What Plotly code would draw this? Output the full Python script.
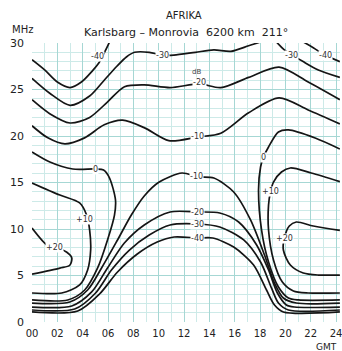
import plotly.graph_objects as go

# ---- contour lines (hour GMT, frequency MHz) ----
m40_left_h = [0, 1.0, 2.0, 3.0, 3.9, 4.7, 5.3, 5.8, 6.15]
m40_left_f = [28.2, 27.1, 25.8, 25.2, 25.8, 26.9, 27.9, 29.2, 30.2]
m40_right_h = [21.3, 22.2, 23.1, 24.3]
m40_right_f = [30.2, 29.5, 28.7, 28.0]

m30_top_h = [0, 1.4, 3.0, 4.55, 5.7, 6.7, 7.45, 8.1, 9.25, 10.3, 11.2, 12.9, 14.35, 15.7, 17.1, 18.0, 18.5]
m30_top_f = [26.2, 24.6, 23.3, 24.3, 26.0, 27.5, 28.5, 29.0, 29.0, 28.7, 28.7, 29.0, 29.25, 29.1, 29.7, 30.1, 30.3]
m30_right_h = [19.3, 19.85, 20.55, 21.4, 22.6, 24.3]
m30_right_f = [30.1, 29.35, 28.7, 28.0, 27.1, 26.3]

m20_up_h = [0, 1.4, 3.0, 4.55, 5.95, 7.3, 8.85, 10.9, 13.2, 14.9, 17.1, 19.5, 21.8, 24.3]
m20_up_f = [23.9, 22.4, 21.4, 22.0, 23.65, 25.3, 25.5, 25.2, 25.6, 25.2, 26.3, 27.4, 25.8, 23.9]

m10_up_h = [0, 1.25, 2.6, 4.15, 5.7, 7.15, 8.85, 10.8, 13.1, 14.9, 17.1, 19.5, 21.8, 24.3]
m10_up_f = [21.1, 19.8, 19.15, 19.8, 21.2, 21.7, 20.9, 19.5, 19.9, 20.3, 22.5, 24.1, 22.8, 21.3]

z0_left_h = [0, 1.41, 3.22, 5.02, 5.65, 6.12, 6.59, 6.51, 5.96, 5.18, 4.16, 2.82, 0]
z0_left_f = [18.28, 17.2, 16.45, 16.45, 16.34, 15.48, 13.12, 11.5, 8.82, 5.81, 3.44, 2.37, 2.37]
z0_right_h = [24.3, 22.35, 20.24, 19.45, 18.67, 18.27, 18.04, 17.88, 18.12, 18.67, 19.45, 20.24, 21.02, 24.3]
z0_right_f = [18.6, 19.78, 20.65, 20.43, 18.82, 17.74, 16.67, 14.19, 9.89, 6.45, 3.76, 2.58, 2.37, 2.37]

p10_left_h = [0, 2.2, 3.76, 4.31, 4.55, 4.63, 4.39, 3.76, 2.35, 0]
p10_left_f = [14.95, 13.65, 12.8, 11.5, 9.89, 7.74, 5.59, 3.98, 3.12, 3.12]
p10_right_h = [24.3, 22.04, 20.39, 19.69, 19.06, 18.82, 18.67, 18.67, 19.06, 19.76, 20.63, 21.8, 24.3]
p10_right_f = [15.1, 16.02, 16.56, 16.13, 15.05, 13.98, 12.58, 9.89, 6.67, 4.3, 3.34, 3.12, 3.12]

p20_left_h = [0, 1.25, 2.04, 2.75, 3.14, 2.98, 2.2, 0]
p20_left_f = [10.1, 8.2, 7.95, 7.5, 6.9, 6.1, 5.8, 5.15]
p20_right_h = [24.3, 22.2, 20.86, 20.31, 19.92, 19.84, 20.39, 21.41, 22.59, 24.3]
p20_right_f = [9.85, 10.32, 10.75, 10.32, 9.03, 7.74, 6.13, 5.27, 5.05, 5.05]

m10_low_h = [0, 2.98, 4.39, 5.49, 6.75, 7.84, 8.86, 10.04, 11.84, 13.1, 14.35, 15.92, 17.25, 18.35, 19.14, 19.84, 20.86, 24.3]
m10_low_f = [2.04, 2.15, 3.44, 5.81, 8.82, 11.5, 13.55, 15.05, 16.02, 15.6, 15.48, 13.98, 10.97, 7.2, 4.19, 2.58, 2.04, 2.04]

m20_low_h = [0, 3.14, 4.71, 5.96, 7.29, 8.86, 10.9, 13.1, 14.82, 16.31, 17.73, 18.67, 19.37, 20.08, 20.71, 24.3]
m20_low_f = [1.61, 1.72, 3.23, 5.81, 8.49, 10.43, 11.83, 11.83, 11.72, 10.75, 8.28, 5.59, 3.12, 1.83, 1.61, 1.61]

m30_low_h = [0, 3.37, 5.02, 6.27, 7.69, 9.25, 10.9, 13.1, 14.82, 16.71, 18.04, 18.9, 19.45, 20.24, 24.3]
m30_low_f = [1.29, 1.4, 3.12, 5.59, 7.74, 9.35, 10.43, 10.54, 10.22, 8.82, 6.45, 3.66, 2.04, 1.29, 1.29]

m40_low_h = [0, 3.61, 5.33, 6.75, 8.31, 9.88, 11.22, 13.1, 14.27, 15.92, 17.49, 18.51, 19.14, 19.84, 24.3]
m40_low_f = [1.08, 1.18, 3.01, 5.38, 7.31, 8.6, 9.14, 9.03, 9.03, 8.06, 6.13, 3.44, 1.83, 1.08, 1.08]

# ---- contour labels ----
label_text = ["-40", "-30", "-30", "-40", "-20", "-10", "0", "0", "-10",
              "+10", "+10", "+20", "+20", "-20", "-30", "-40"]
label_h = [5.2, 10.3, 20.5, 23.2, 13.2, 13.1, 5.0, 18.3, 13.0,
           4.15, 18.8, 1.8, 19.9, 13.1, 13.1, 13.1]
label_f = [28.5, 28.7, 28.7, 28.7, 25.7, 19.9, 16.45, 17.7, 15.6,
           11.0, 14.0, 8.06, 9.0, 11.8, 10.5, 9.0]

x_ticks = list(range(0, 25, 2))
x_tick_labels = ["%02d" % v for v in x_ticks]
y_ticks = [0, 5, 10, 15, 20, 25, 30]

lines = [
    (m40_left_h, m40_left_f), (m40_right_h, m40_right_f),
    (m30_top_h, m30_top_f), (m30_right_h, m30_right_f),
    (m20_up_h, m20_up_f), (m10_up_h, m10_up_f),
    (z0_left_h, z0_left_f), (z0_right_h, z0_right_f),
    (p10_left_h, p10_left_f), (p10_right_h, p10_right_f),
    (p20_left_h, p20_left_f), (p20_right_h, p20_right_f),
    (m10_low_h, m10_low_f), (m20_low_h, m20_low_f),
    (m30_low_h, m30_low_f), (m40_low_h, m40_low_f),
]

INK = "#151515"
FONT = "DejaVu Sans"
TXT = "#222222"

fig = go.Figure()
for hx, fy in lines:
    fig.add_trace(go.Scatter(x=hx, y=fy, mode="lines",
                             line=dict(color=INK, width=1.7, shape="spline", smoothing=0.8),
                             hoverinfo="skip", showlegend=False))

for t, hx, fy in zip(label_text, label_h, label_f):
    fig.add_annotation(x=hx, y=fy, xref="x", yref="y", text=t, showarrow=False,
                       font=dict(family=FONT, size=8, color="#333333"),
                       bgcolor="white", borderpad=0)

fig.add_annotation(x=13.0, y=26.85, xref="x", yref="y", text="dB", showarrow=False,
                   font=dict(family=FONT, size=7, color="#444444"))

top_texts = [
    ("AFRIKA", 0.493, 1.100, 10),
    ("Karlsbarg – Monrovia  6200 km  211°", 0.499, 1.036, 11),
    ("MHz", -0.032, 1.047, 10),
    ("GMT", 0.955, -0.090, 9),
]
for t, px, py, sz in top_texts:
    fig.add_annotation(x=px, y=py, xref="paper", yref="paper", text=t,
                       xanchor="center", yanchor="middle", showarrow=False,
                       font=dict(family=FONT, size=sz, color=TXT))

GRID_MINOR = "#cdeae8"
GRID_MAJOR = "#a6d7d4"

fig.update_layout(
    width=342, height=351,
    margin=dict(l=32, r=0, t=43, b=29),
    paper_bgcolor="white", plot_bgcolor="white",
    xaxis=dict(range=[0, 24.31], tickmode="array", tickvals=x_ticks, ticktext=x_tick_labels,
               showgrid=True, gridcolor=GRID_MAJOR, gridwidth=1,
               minor=dict(dtick=1, showgrid=True, gridcolor=GRID_MINOR, gridwidth=1),
               zeroline=False, ticks="", showline=False,
               ticklabeloverflow="allow", ticklabelstandoff=4,
               tickfont=dict(family=FONT, size=10, color=TXT)),
    yaxis=dict(range=[0, 30], tickmode="array", tickvals=y_ticks,
               showgrid=True, gridcolor=GRID_MAJOR, gridwidth=1,
               minor=dict(dtick=1, showgrid=True, gridcolor=GRID_MINOR, gridwidth=1),
               zeroline=False, ticks="", showline=False,
               ticklabelstandoff=7,
               tickfont=dict(family=FONT, size=11, color=TXT)),
)

fig.write_html("out.html")
